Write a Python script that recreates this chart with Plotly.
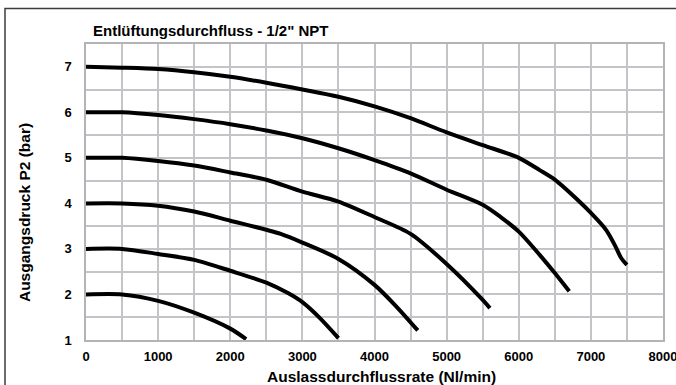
import plotly.graph_objects as go

# ---- data ----
x_p7 = [0, 500, 1000, 1500, 2000, 2500, 3000, 3500, 4000, 4500, 5000, 5500, 6000, 6290, 6500, 6840, 7000, 7210, 7330, 7420, 7500]
y_p7 = [7.0, 6.98, 6.95, 6.88, 6.78, 6.65, 6.5, 6.34, 6.13, 5.87, 5.56, 5.28, 5.0, 4.73, 4.52, 4.04, 3.79, 3.42, 3.09, 2.80, 2.65]

x_p6 = [0, 500, 1000, 1500, 2000, 2500, 3000, 3500, 4000, 4500, 5000, 5500, 5750, 6000, 6290, 6500, 6700]
y_p6 = [6.0, 6.0, 5.94, 5.85, 5.74, 5.6, 5.43, 5.21, 4.95, 4.66, 4.3, 3.97, 3.7, 3.38, 2.87, 2.47, 2.07]

x_p5 = [0, 500, 1000, 1500, 2000, 2500, 3000, 3500, 4000, 4500, 5000, 5500, 5600]
y_p5 = [5.0, 5.0, 4.93, 4.83, 4.68, 4.52, 4.26, 4.04, 3.7, 3.33, 2.67, 1.88, 1.70]

x_p4 = [0, 500, 1000, 1500, 2000, 2500, 2700, 3000, 3500, 4000, 4300, 4600]
y_p4 = [4.0, 4.0, 3.95, 3.82, 3.62, 3.42, 3.33, 3.14, 2.78, 2.21, 1.74, 1.21]

x_p3 = [0, 500, 1000, 1500, 2000, 2500, 2800, 3000, 3250, 3500]
y_p3 = [3.0, 3.0, 2.89, 2.76, 2.52, 2.26, 2.03, 1.83, 1.47, 1.04]

x_p2 = [0, 500, 1000, 1500, 2000, 2220]
y_p2 = [2.0, 2.0, 1.86, 1.6, 1.25, 1.02]

x_grid = [0, 500, 1000, 1500, 2000, 2500, 3000, 3500, 4000, 4500, 5000, 5500, 6000, 6500, 7000, 7500, 8000]
x_labels = ["0", "", "1000", "", "2000", "", "3000", "", "4000", "", "5000", "", "6000", "", "7000", "", "8000"]
y_grid = [1, 1.5, 2, 2.5, 3, 3.5, 4, 4.5, 5, 5.5, 6, 6.5, 7, 7.5]
y_labels = ["1", "", "2", "", "3", "", "4", "", "5", "", "6", "", "7", ""]

title_text = 'Entlüftungsdurchfluss - 1/2" NPT'
x_title = "Auslassdurchflussrate (Nl/min)"
y_title = "Ausgangsdruck P2 (bar)"

FONT = "Liberation Sans, Arial, sans-serif"

fig = go.Figure()
for xs, ys in [(x_p2, y_p2), (x_p3, y_p3), (x_p4, y_p4), (x_p5, y_p5), (x_p6, y_p6), (x_p7, y_p7)]:
    fig.add_trace(go.Scatter(x=xs, y=ys, mode="lines",
                             line=dict(color="black", width=4, shape="spline", smoothing=0.8),
                             showlegend=False, hoverinfo="skip"))

W, H = 676, 385
L, R, T, B = 86, 13, 43.5, 44.7
pw, ph = W - L - R, H - T - B

def px(xp):
    return (xp - L) / pw

def py(yp):
    return (H - B - yp) / ph

grid = "#c4c4c8"
fig.update_layout(
    width=W, height=H,
    margin=dict(l=L, r=R, t=T, b=B, autoexpand=False),
    paper_bgcolor="white", plot_bgcolor="white",
    font=dict(family=FONT, size=13, color="black"),
    xaxis=dict(range=[0, 8000], tickmode="array", tickvals=x_grid, ticktext=x_labels,
               showgrid=True, gridcolor=grid, gridwidth=1.5,
               showline=True, linecolor="#b4b4b8", linewidth=1.5, mirror=True,
               ticks="outside", ticklen=4, tickcolor="rgba(255,255,255,0)",
               ticklabeloverflow="allow", automargin=False,
               zeroline=False, fixedrange=True,
               tickfont=dict(family=FONT, size=13, color="black", weight="bold")),
    yaxis=dict(range=[1, 7.5], tickmode="array", tickvals=y_grid, ticktext=y_labels,
               showgrid=True, gridcolor=grid, gridwidth=1.5,
               showline=True, linecolor="#b4b4b8", linewidth=1.5, mirror=True,
               ticks="outside", ticklen=10, tickcolor="rgba(255,255,255,0)",
               automargin=False, zeroline=False, fixedrange=True,
               tickfont=dict(family=FONT, size=13, color="black", weight="bold")),
    shapes=[dict(type="rect", xref="paper", yref="paper",
                 x0=px(5), x1=px(690), y0=py(400), y1=py(8),
                 line=dict(color="#3c3c3c", width=1.5), layer="above")],
    annotations=[
        dict(text=title_text, xref="paper", yref="paper", x=px(90.5), y=py(30),
             xanchor="left", yanchor="middle", showarrow=False,
             font=dict(family=FONT, size=15, color="black", weight="bold")),
        dict(text=x_title, xref="paper", yref="paper", x=px(381.5), y=py(377),
             xanchor="center", yanchor="middle", showarrow=False,
             font=dict(family=FONT, size=15.5, color="black", weight="bold")),
        dict(text=y_title, xref="paper", yref="paper", x=px(24), y=py(213),
             xanchor="center", yanchor="middle", showarrow=False, textangle=-90,
             font=dict(family=FONT, size=15.5, color="black", weight="bold")),
    ],
)

fig.write_html("out.html", config={"displayModeBar": False},
               post_script="document.body.style.margin='0';document.body.style.padding='0';")
